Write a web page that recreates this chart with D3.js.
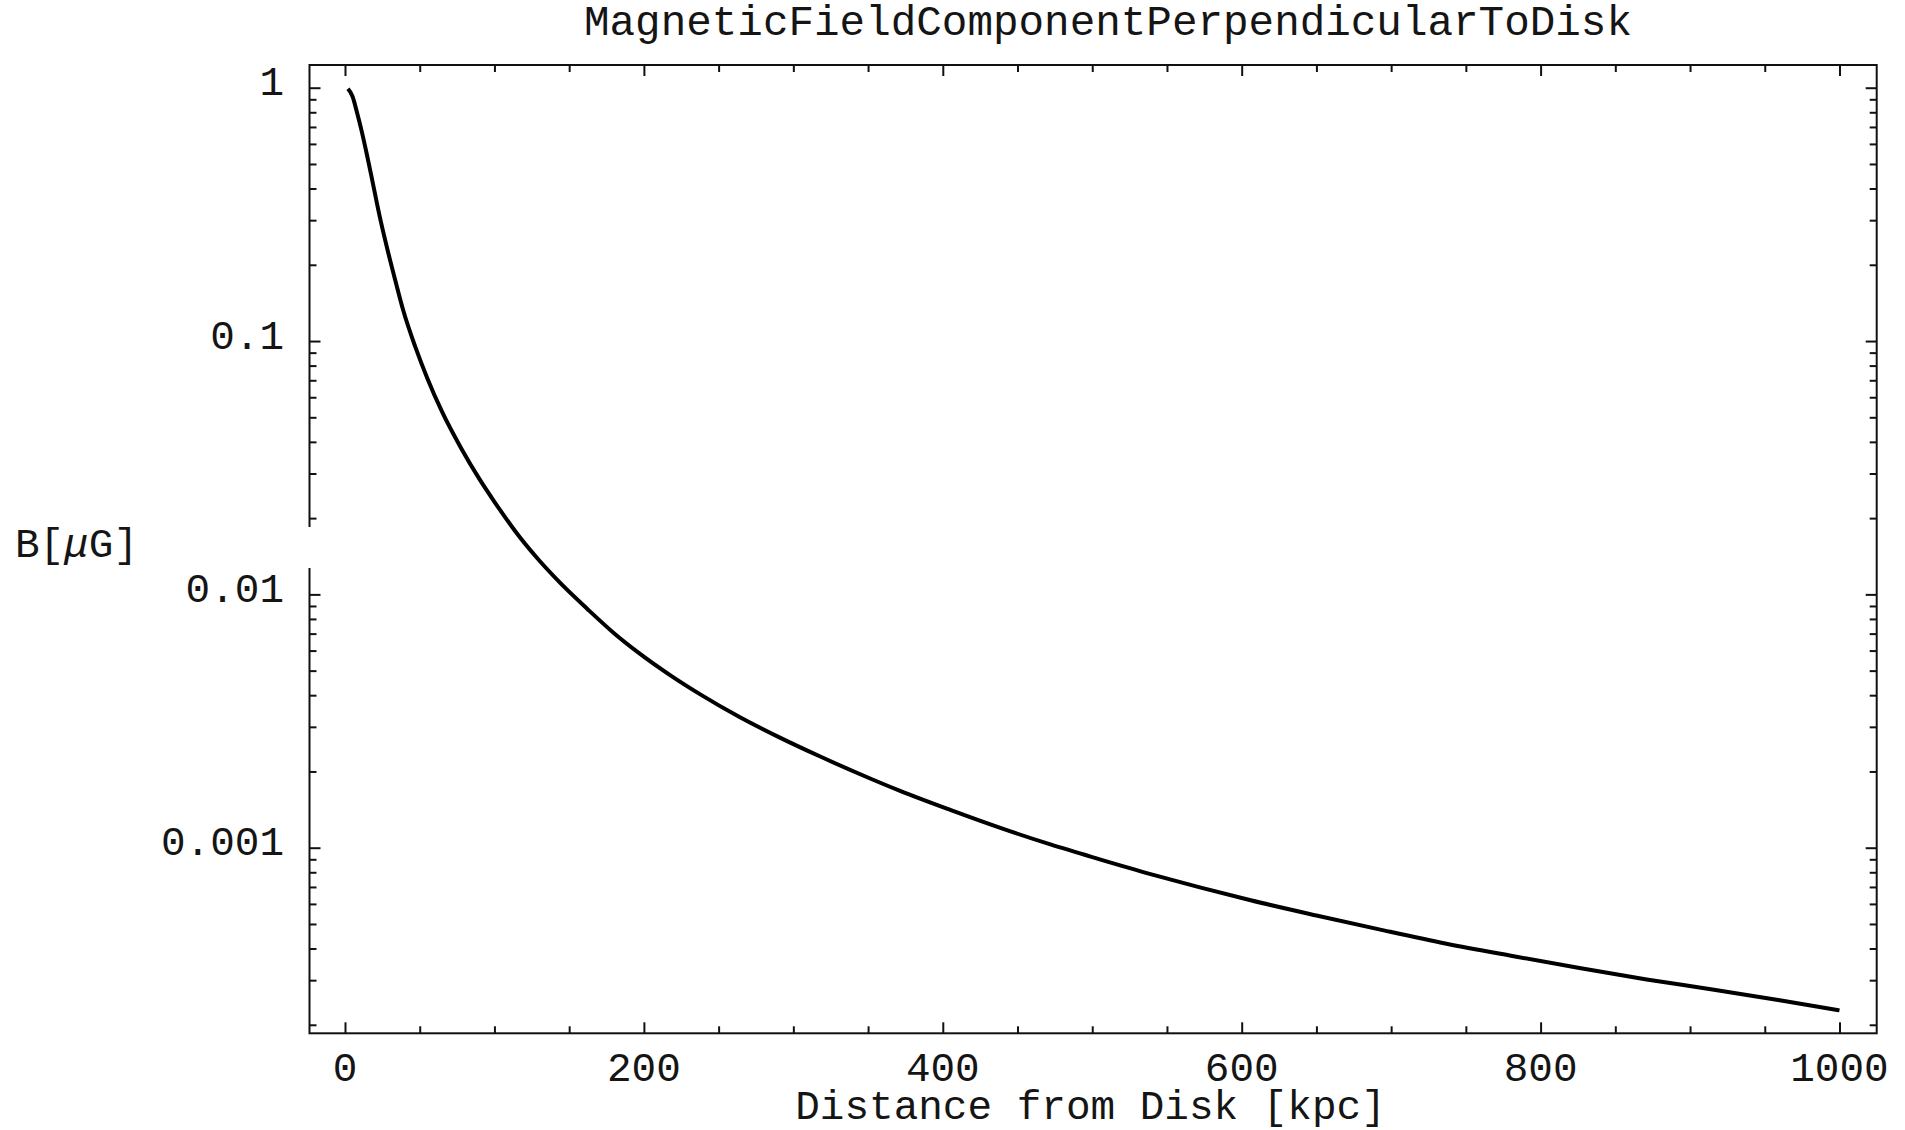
<!DOCTYPE html>
<html>
<head>
<meta charset="utf-8">
<script src="https://cdn.jsdelivr.net/npm/d3@7/dist/d3.min.js"></script>
<style>
  html, body { margin: 0; padding: 0; background: #ffffff; }
  svg { display: block; }
  text { font-family: "Liberation Mono", "Courier New", "DejaVu Sans Mono", monospace; fill: #151515; }
</style>
</head>
<body>
<svg id="chart" width="1905" height="1130"></svg>
<script>
// Perpendicular field strength B [μG] against distance from the disk [kpc]
const distanceKpc = [2, 5, 8, 11, 14.5, 19, 23, 28, 33.5, 39, 47, 55, 65, 78, 90, 100,
  117, 130, 144, 162, 180, 197, 218, 238, 264, 291, 318, 351, 371, 405, 438, 472, 505, 539,
  572, 606, 650, 692, 737, 782, 826, 871, 916, 960, 1000];
const fieldMicroGauss = [0.99, 0.925, 0.80, 0.68, 0.55, 0.41, 0.315, 0.235, 0.175, 0.132, 0.095,
  0.0715, 0.0525, 0.0375, 0.0285, 0.0232, 0.0168, 0.0136, 0.0111, 0.00878, 0.00703, 0.00585,
  0.00478, 0.00402, 0.00328, 0.00272, 0.00229, 0.00188, 0.00168, 0.00141, 0.0012, 0.00103,
  0.0009, 0.000787, 0.000697, 0.00062, 0.00054, 0.000476, 0.000418, 0.000373, 0.000335,
  0.000302, 0.000275, 0.00025, 0.000228];

// Tick values and labels
const xMajorTicks = [0, 200, 400, 600, 800, 1000];
const xMinorTicks = [50, 100, 150, 250, 300, 350, 450, 500, 550, 650, 700, 750, 850, 900, 950];
const xTickLabels = ["0", "200", "400", "600", "800", "1000"];
const yMajorTicks = [1, 0.1, 0.01, 0.001];
const yTickLabels = ["1", "0.1", "0.01", "0.001"];
const yMinorTicks = [0.9, 0.8, 0.7, 0.6, 0.5, 0.4, 0.3, 0.2,
  0.09, 0.08, 0.07, 0.06, 0.05, 0.04, 0.03, 0.02,
  0.009, 0.008, 0.007, 0.006, 0.005, 0.004, 0.003, 0.002,
  0.0009, 0.0008, 0.0007, 0.0006, 0.0005, 0.0004, 0.0003, 0.0002];

const titleText = "MagneticFieldComponentPerpendicularToDisk";
const xLabelText = "Distance from Disk [kpc]";

const svg = d3.select("#chart");
const frame = { left: 309.5, right: 1876.7, top: 65, bottom: 1033.3 };

const x = d3.scaleLinear().domain([-23.75, 1024.9]).range([frame.left, frame.right]);
const y = d3.scaleLog().domain([1.2293, 1.851e-4]).range([frame.top, frame.bottom]);

const MAJOR = 11, MINOR = 7;

function tickAxis(axisFn, scale, values, size, transform) {
  const g = svg.append("g")
    .attr("transform", transform)
    .call(axisFn(scale).tickValues(values).tickSize(-size).tickSizeOuter(0).tickFormat(""));
  g.select(".domain").remove();
  g.selectAll(".tick line").attr("stroke", "#111").attr("stroke-width", 2);
  return g;
}

// inward ticks on all four sides
tickAxis(d3.axisBottom, x, xMajorTicks, MAJOR, `translate(0,${frame.bottom})`);
tickAxis(d3.axisBottom, x, xMinorTicks, MINOR, `translate(0,${frame.bottom})`);
tickAxis(d3.axisTop, x, xMajorTicks, MAJOR, `translate(0,${frame.top})`);
tickAxis(d3.axisTop, x, xMinorTicks, MINOR, `translate(0,${frame.top})`);
tickAxis(d3.axisLeft, y, yMajorTicks, MAJOR, `translate(${frame.left},0)`);
tickAxis(d3.axisLeft, y, yMinorTicks, MINOR, `translate(${frame.left},0)`);
tickAxis(d3.axisRight, y, yMajorTicks, MAJOR, `translate(${frame.right},0)`);
tickAxis(d3.axisRight, y, yMinorTicks, MINOR, `translate(${frame.right},0)`);

// frame
svg.append("rect")
  .attr("x", frame.left).attr("y", frame.top)
  .attr("width", frame.right - frame.left).attr("height", frame.bottom - frame.top)
  .attr("fill", "none").attr("stroke", "#111").attr("stroke-width", 2);

// curve
const pts = distanceKpc.map((d, i) => [d, fieldMicroGauss[i]]);
svg.append("path")
  .datum(pts)
  .attr("fill", "none")
  .attr("stroke", "#000")
  .attr("stroke-width", 4)
  .attr("stroke-linejoin", "round")
  .attr("d", d3.line().x(d => x(d[0])).y(d => y(d[1])).curve(d3.curveMonotoneX));

const FS_TICK = 41, FS_TITLE = 42.6, FS_LABEL = 41;

// tick labels
svg.append("g").selectAll("text")
  .data(xMajorTicks)
  .join("text")
  .attr("x", d => x(d))
  .attr("y", 1081)
  .attr("text-anchor", "middle")
  .attr("font-size", FS_TICK)
  .text((d, i) => xTickLabels[i]);

svg.append("g").selectAll("text")
  .data(yMajorTicks)
  .join("text")
  .attr("x", 284)
  .attr("y", d => y(d) + 7.5)
  .attr("text-anchor", "end")
  .attr("font-size", FS_TICK)
  .text((d, i) => yTickLabels[i]);

// title
svg.append("text")
  .attr("x", 1108).attr("y", 35)
  .attr("text-anchor", "middle")
  .attr("font-size", FS_TITLE)
  .text(titleText);

// x axis label
svg.append("text")
  .attr("x", 1090.5).attr("y", 1119)
  .attr("text-anchor", "middle")
  .attr("font-size", FS_LABEL)
  .text(xLabelText);

// y axis label, its white box interrupts the left frame
svg.append("rect")
  .attr("x", 0).attr("y", 527).attr("width", frame.left + 3).attr("height", 41)
  .attr("fill", "#fff");
const yl = svg.append("text")
  .attr("x", 15).attr("y", 557)
  .attr("font-size", FS_LABEL);
yl.append("tspan").text("B[");
yl.append("tspan").attr("font-style", "italic").text("μ");
yl.append("tspan").text("G]");
</script>
</body>
</html>
